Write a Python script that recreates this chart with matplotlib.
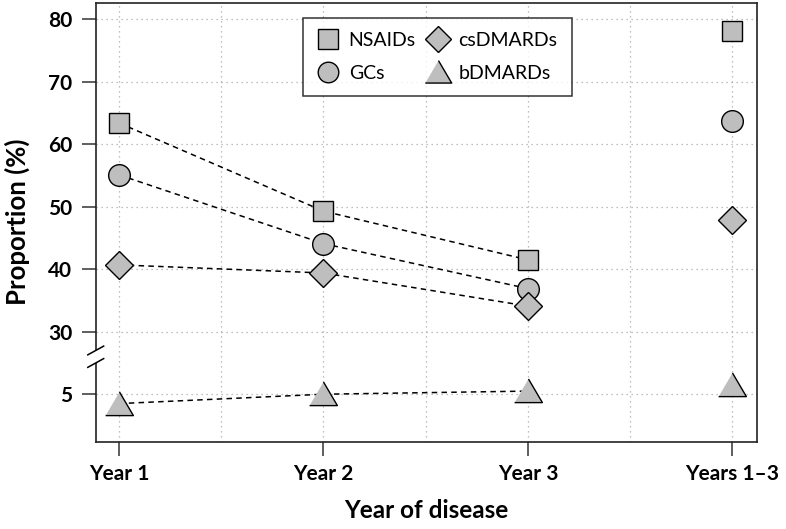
import numpy as np
import matplotlib
matplotlib.use("Agg")
import matplotlib.pyplot as plt

plt.rcParams['font.family'] = ['Lato', 'DejaVu Sans']

# data
years = ["Year 1", "Year 2", "Year 3", "Years 1\u20133"]
nsaids = [63.4, 49.3, 41.5, 78.2]
gcs = [55.1, 44.1, 36.9, 63.8]
csdmards = [40.7, 39.4, 34.1, 47.9]
bdmards = [3.5, 5.0, 5.5, 6.5]

y_ticks = [5, 30, 40, 50, 60, 70, 80]
OFFSET = 15      # values below the break are shifted up by this
BREAK_AT = 26    # where the axis break sits (plotted units)


def squash(vals):
    # map real values onto the broken axis
    return [v + OFFSET if v < 20 else v for v in vals]


fig = plt.figure(figsize=(7.86, 5.29), dpi=100)
ax = fig.add_axes([0.1218, 0.165, 0.8412, 0.830])

x = np.arange(1, len(years) + 1)
fill = '#bebebe'
tri = [(-1, -0.8), (1, -0.8), (0, 0.9)]
series = [
    ("NSAIDs", nsaids, 's', 14.9),
    ("GCs", gcs, 'o', 15.6),
    ("csDMARDs", csdmards, 'D', 14.0),
    ("bDMARDs", bdmards, tri, 20.0),
]

for name, vals, mk, ms in series:
    yv = squash(vals)
    # dashed line only for the single years
    ax.plot(x[:3], yv[:3], color='black', lw=1.1, ls=(0, (3.6, 2.8)), zorder=2)
    ax.plot(x, yv, ls='none', marker=mk, ms=ms, mfc=fill, mec='black',
            mew=1.0, zorder=3, label=name)

ax.set_xlim(0.886, 4.12)
ax.set_ylim(12.4, 82.66)

# grid: every half unit on x, at each tick on y
for gx in np.arange(1, 4.01, 0.5):
    ax.axvline(gx, color='#aaaaaa', lw=0.9, ls=(0, (1, 3)), zorder=1)
for gy in squash(y_ticks):
    ax.axhline(gy, color='#aaaaaa', lw=0.9, ls=(0, (1, 3)), zorder=1)

ax.set_xticks(x)
ax.set_xticklabels(years, fontsize=15, fontweight='bold')
ax.set_yticks(squash(y_ticks))
ax.set_yticklabels([str(t) for t in y_ticks], fontsize=15, fontweight='bold')
ax.tick_params(axis='both', direction='out', length=10, width=1.1, color='#333333')
ax.tick_params(axis='y', pad=7)
ax.tick_params(axis='x', pad=6)

for s in ax.spines.values():
    s.set_linewidth(1.2)
    s.set_color('#222222')

ax.set_xlabel("Year of disease", fontsize=17.5, fontweight='bold', labelpad=11)
ax.set_ylabel("Proportion (%)", fontsize=18.5, fontweight='bold', labelpad=13)

# axis break marks on the left spine
gap = 1.0
ax.plot([0, 0], [BREAK_AT - gap, BREAK_AT + gap], transform=ax.get_yaxis_transform(),
        color='white', lw=3, clip_on=False, zorder=5, solid_capstyle='butt')
for dy in (-gap, gap):
    ax.plot([-0.012, 0.012], [BREAK_AT + dy - 0.7, BREAK_AT + dy + 0.7],
            transform=ax.get_yaxis_transform(), color='black', lw=1.1,
            clip_on=False, zorder=6)

leg = ax.legend(ncol=2, loc='upper left', bbox_to_anchor=(0.3135, 0.966),
                borderaxespad=0, fontsize=14, frameon=True, fancybox=False,
                edgecolor='black', handlelength=1.1, handletextpad=0.5,
                columnspacing=0.6, borderpad=0.75, labelspacing=0.8,
                markerscale=0.95)
leg.get_frame().set_linewidth(1.1)

fig.savefig("out.png", dpi=100)
